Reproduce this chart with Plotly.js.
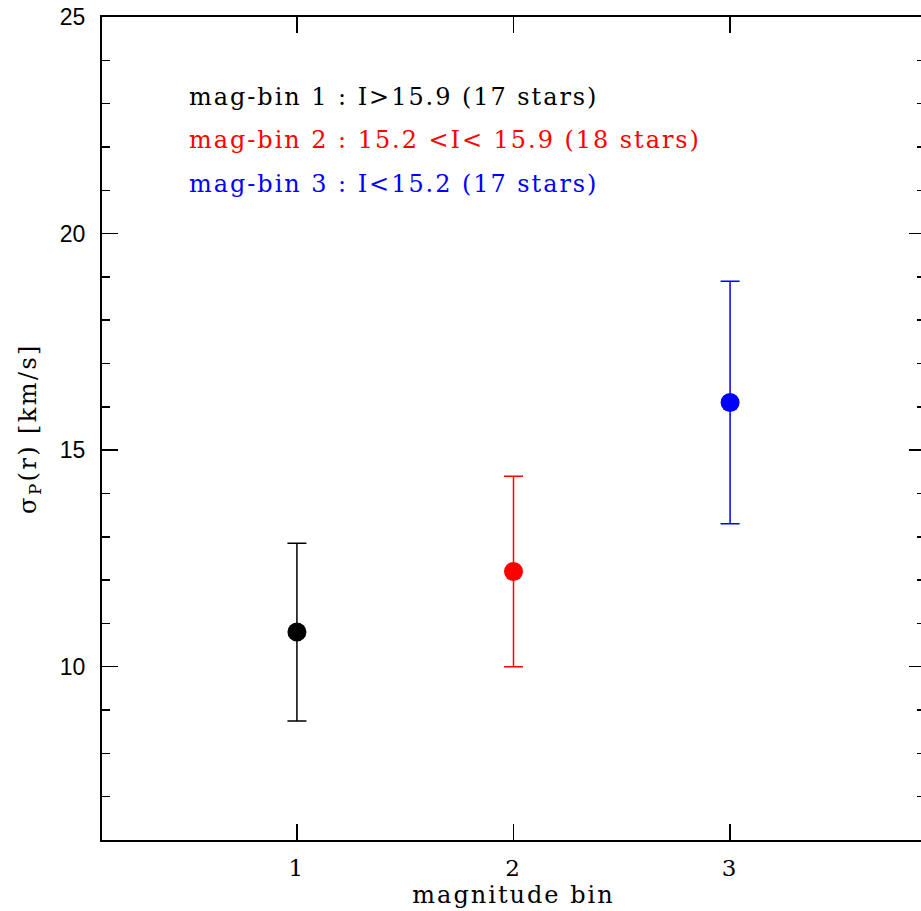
<!DOCTYPE html>
<html>
<head>
<meta charset="utf-8">
<script src="https://cdn.plot.ly/plotly-3.0.1.min.js"></script>
<style>
  html, body { margin: 0; padding: 0; overflow: hidden; background: #fff; }
  #chart { width: 940px; height: 911px; }
  .annotation-text { letter-spacing: 1.95px; }
  .xtick text, .g-xtitle text { letter-spacing: 2px; }
  .g-ytitle text { letter-spacing: 2.4px; }
</style>
</head>
<body>
<div id="chart"></div>
<script>
// Data
const bins = [1, 2, 3];
const sigma = [10.8, 12.2, 16.1];
const sigmaErr = [2.05, 2.2, 2.8];
const binColors = ['#000000', '#ff0000', '#0000ff'];
const binLabels = [
  'mag-bin 1 : I>15.9 (17 stars)',
  'mag-bin 2 : 15.2 <I< 15.9 (18 stars)',
  'mag-bin 3 : I<15.2 (17 stars)'
];
const labelRows = [23.15, 22.15, 21.15];
const xTickVals = [1, 2, 3];
const xTickText = ['1', '2', '3'];
const yTickVals = [10, 15, 20, 25];

const serif = 'DejaVu Serif, serif';
const sans = 'Liberation Sans, Arial, sans-serif';

const traces = bins.map((b, i) => ({
  type: 'scatter',
  mode: 'markers',
  x: [b],
  y: [sigma[i]],
  marker: { color: binColors[i], size: 19 },
  error_y: { type: 'data', array: [sigmaErr[i]], visible: true, color: binColors[i], thickness: 1.5, width: 9.5 },
  showlegend: false,
  hoverinfo: 'x+y'
}));

const annotations = binLabels.map((t, i) => ({
  text: t,
  x: 0.493,
  y: labelRows[i],
  xref: 'x',
  yref: 'y',
  xanchor: 'left',
  yanchor: 'middle',
  showarrow: false,
  font: { family: serif, size: 24, color: binColors[i] }
}));

const layout = {
  width: 940,
  height: 911,
  margin: { l: 102, r: 15, t: 17, b: 71, pad: 0 },
  paper_bgcolor: '#ffffff',
  plot_bgcolor: '#ffffff',
  showlegend: false,
  xaxis: {
    range: [0.1, 3.9],
    tickvals: xTickVals,
    ticktext: xTickText,
    ticks: 'inside',
    ticklen: 16,
    tickwidth: 1.5,
    tickcolor: '#000',
    showline: true,
    linewidth: 2,
    linecolor: '#000',
    mirror: 'ticks',
    showgrid: false,
    zeroline: false,
    tickfont: { family: serif, size: 23, color: '#000' },
    ticklabelstandoff: 6,
    title: { text: 'magnitude bin', font: { family: serif, size: 24, color: '#000' }, standoff: 6 }
  },
  yaxis: {
    range: [6, 25],
    tickvals: yTickVals,
    ticks: 'inside',
    ticklen: 16,
    tickwidth: 1.5,
    tickcolor: '#000',
    showline: true,
    linewidth: 2,
    linecolor: '#000',
    mirror: 'ticks',
    showgrid: false,
    zeroline: false,
    minor: { dtick: 1, ticks: 'inside', ticklen: 8, tickwidth: 1.5, tickcolor: '#000', showgrid: false },
    tickfont: { family: sans, size: 23, color: '#000' },
    ticklabelstandoff: 10,
    title: { text: 'σ<sub>P</sub>(r) [km/s]', font: { family: serif, size: 24, color: '#000' }, standoff: 16 }
  },
  annotations: annotations
};

Plotly.newPlot('chart', traces, layout, { displayModeBar: false, staticPlot: true });
</script>
</body>
</html>
